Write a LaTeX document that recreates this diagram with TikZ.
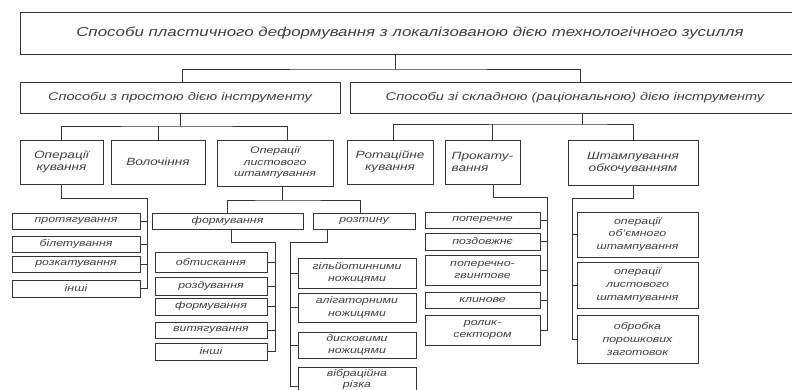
\documentclass[tikz,border=0pt]{standalone}
\usepackage{fontspec}
\setmainfont{Liberation Sans}[FakeStretch=1.3]
\definecolor{linec}{HTML}{353535}
\definecolor{textc}{HTML}{404040}
\tikzset{
  box/.style={draw=linec, line width=0.85pt, inner sep=0pt, align=center, text=textc, font=\itshape},
  lvA/.style={font=\itshape\fontsize{13}{15}\selectfont},
  lvL/.style={font=\itshape\fontsize{11.2}{13}\selectfont},
  lvB/.style={font=\itshape\fontsize{10.5}{12}\selectfont},
  lvC/.style={font=\itshape\fontsize{9.5}{11.5}\selectfont},
  lvD/.style={font=\itshape\fontsize{9.5}{12.8}\selectfont},
  conn/.style={draw=linec, line width=0.85pt}
}
\newcommand\bx[7][]{\node[box,#1,minimum width={(#4-#2)*1pt},minimum height={(#5-#3)*1pt}] (#6) at ({(#2+#4)/2},{(#3+#5)/2}) {#7};}
\begin{document}
\begin{tikzpicture}[x=1pt,y=-1pt]
\useasboundingbox (0,0) rectangle (792,390);
\fill[white] (0,0) rectangle (792,390);
\clip (0,0) rectangle (792,390);
% level 1
\bx[lvA]{20}{12}{800}{54}{top}{Способи пластичного деформування з локалізованою дією технологічного зусилля}
% level 2
\bx[lvL]{20}{82}{340}{113}{la}{Способи з простою дією інструменту}
\bx[lvL]{350}{82}{800}{113}{lb}{Способи зі складною (раціональною) дією інструменту}
% level 3
\bx[lvB]{20}{140}{103}{184}{kuv}{Операції\\кування}
\bx[lvB]{111}{140}{205}{184}{vol}{Волочіння}
\bx[lvC]{217}{140}{333}{186}{lst}{Операції\\листового\\штампування}
\bx[lvB]{347}{140}{433}{184}{rot}{Ротаційне\\кування}
\bx[lvB,align=left]{445}{140}{520}{184}{prk}{Прокату-\\вання}
\bx[lvB]{568}{140}{698}{185}{sht}{Штампування\\обкочуванням}
% level 4: kuvannia
\bx[lvD]{12}{213}{140}{229}{prot}{протягування}
\bx[lvD]{12}{236}{140}{252}{bilet}{білетування}
\bx[lvD]{12}{256}{140}{272}{rozk}{розкатування}
\bx[lvD]{12}{280}{140}{297}{insha}{інші}
% listove
\bx[lvD]{152}{213}{303}{229}{form}{формування}
\bx[lvD]{313}{213}{415}{229}{rozt}{розтину}
\bx[lvD]{155}{252}{267}{272}{obt}{обтискання}
\bx[lvD]{155}{277}{267}{295}{rozd}{роздування}
\bx[lvD]{155}{298}{267}{315}{formb}{формування}
\bx[lvD]{155}{322}{267}{338}{vyt}{витягування}
\bx[lvD]{155}{343}{267}{360}{inshb}{інші}
\bx[lvD]{298}{258}{416}{288}{gil}{гільйотинними\\ножицями}
\bx[lvD]{298}{293}{416}{322}{alig}{алігаторними\\ножицями}
\bx[lvD]{298}{332}{416}{358}{disk}{дисковими\\ножицями}
\bx[lvD]{298}{367}{416}{406}{vibr}{}
\node[lvD, text=textc, align=center, inner sep=0pt, font=\itshape\fontsize{9.5}{11}\selectfont] (vibrt) at (357,379) {вібраційна\\різка};
% prokatuvannia
\bx[lvD]{425}{212}{540}{228}{pop}{поперечне}
\bx[lvD]{425}{233}{540}{250}{pozd}{поздовжнє}
\bx[lvD]{425}{255}{540}{285}{popg}{поперечно-\\гвинтове}
\bx[lvD]{425}{292}{540}{308}{klyn}{клинове}
\bx[lvD]{425}{315}{540}{345}{rol}{ролик-\\сектором}
% shtampuvannia obkochuvanniam
\bx[lvD]{577}{212}{698}{257}{obj}{операції\\об'ємного\\штампування}
\bx[lvD]{577}{262}{698}{308}{lstb}{операції\\листового\\штампування}
\bx[lvD]{577}{315}{698}{363}{por}{обробка\\порошкових\\заготовок}
% junctions
\coordinate (j0) at (395,69);
\coordinate (b1) at (180,126);
\coordinate (b2) at (582,124);
\coordinate (busk) at (147,198);
\coordinate (busl) at (282,200);
\coordinate (busf) at (275,242);
\coordinate (busr) at (290,242);
\coordinate (busp) at (547,197);
\coordinate (buss) at (572,198);
% connectors level 1-2
\draw[conn] (top.south -| j0) -- (j0);
\draw[conn] ([xshift=2pt]la.north) |- (j0) -| ([xshift=5pt]lb.north);
% level 2-3
\draw[conn] (la.south) -- (b1);
\draw[conn] (kuv.north) |- (b1) -| ([xshift=12pt]lst.north);
\draw[conn] (vol.north) -- (vol.north |- b1);
\draw[conn] (b2 |- lb.south) -- (b2);
\draw[conn] ([xshift=3pt]rot.north) |- (b2) -| (sht.north);
\draw[conn] ([xshift=10pt]prk.north) -- ([xshift=10pt]prk.north |- b2);
% kuvannia
\draw[conn] (kuv.south) |- (busk) -- (busk |- insha.east) -- (insha.east);
\foreach \n in {prot,bilet,rozk} \draw[conn] (\n.east) -- (\n.east -| busk);
% listove
\draw[conn] ([xshift=7pt]lst.south) -- ([xshift=7pt]lst.south |- busl);
\draw[conn] (form.north) |- (busl) -| ([xshift=-4pt]rozt.north);
\draw[conn] ([xshift=4pt]form.south) |- (busf) -- (busf |- inshb.east) -- (inshb.east);
\foreach \n in {obt,rozd,formb,vyt} \draw[conn] (\n.east) -- (\n.east -| busf);
\draw[conn] ([xshift=-37pt]rozt.south) |- (busr) -- (busr |- vibr.west) -- (vibr.west);
\foreach \n in {gil,alig,disk} \draw[conn] (\n.west) -- (\n.west -| busr);
% prokatuvannia
\draw[conn] ([xshift=11pt]prk.south) |- (busp) -- (busp |- rol.east) -- (rol.east);
\foreach \n in {pop,pozd,popg,klyn} \draw[conn] (\n.east) -- (\n.east -| busp);
% shtampuvannia
\draw[conn] (sht.south) |- (buss) -- (buss |- por.west) -- (por.west);
\foreach \n in {obj,lstb} \draw[conn] (\n.west) -- (\n.west -| buss);
\end{tikzpicture}
\end{document}
